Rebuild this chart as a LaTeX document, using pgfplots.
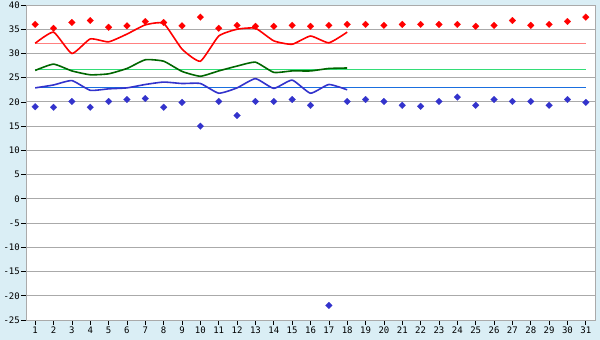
\documentclass[border=0pt]{standalone}
\usepackage{fontspec}
\setmainfont{DejaVu Sans Mono}
\usepackage{pgfplots}
\pgfplotsset{compat=1.18}
\definecolor{bg}{HTML}{DAEEF5}
\definecolor{gridgray}{HTML}{AAAAAA}
\definecolor{myred}{HTML}{FF0000}
\definecolor{mygreen}{HTML}{006600}
\definecolor{myblue}{HTML}{3333CC}
\definecolor{pinkline}{HTML}{FF8080}
\definecolor{lgreen}{HTML}{33DD77}
\definecolor{mblue}{HTML}{1A6FDF}
\begin{document}
\begin{tikzpicture}[x=1pt,y=1pt]
\useasboundingbox (0,0) rectangle (600,340);
\fill[bg] (0,0) rectangle (600,340);
\begin{axis}[
  at={(26pt,20pt)}, anchor=south west, scale only axis,
  width=569pt, height=315pt,
  xmin=0.5, xmax=31.5, ymin=-25, ymax=40,
  xtick={1,...,31}, ytick={-25,-20,...,40},
  ymajorgrids, grid style={color=gridgray, line width=0.9pt},
  axis line style={gridgray, line width=0.9pt},
  axis background/.style={fill=white},
  tick align=outside, xtick pos=bottom, ytick pos=left,
  major tick length=5pt,
  tick style={black, line width=0.7pt},
  ticklabel style={font=\fontsize{9}{9}\selectfont},
  xticklabel style={inner sep=1.5pt},
  yticklabel style={inner sep=1pt},
  /pgf/number format/assume math mode=true,
  every axis plot/.append style={line width=1.6pt},
  clip=false,
]
% reference lines
\addplot[pinkline, line width=0.9pt] coordinates {(1,32.0) (31,32.0)};
\addplot[lgreen, line width=0.9pt] coordinates {(1,26.7) (31,26.7)};
\addplot[mblue, line width=0.9pt] coordinates {(1,23.0) (31,23.0)};
% lines
\addplot[myred, smooth, tension=0.3] coordinates {
(1,32.1) (2,34.4) (3,30.0) (4,33.0) (5,32.4) (6,34.0) (7,35.9) (8,36.2) (9,30.9)
(10,28.4) (11,33.6) (12,35.0) (13,35.2) (14,32.6) (15,31.9) (16,33.6) (17,32.2) (18,34.4)};
\addplot[mygreen, smooth, tension=0.3] coordinates {
(1,26.5) (2,27.8) (3,26.4) (4,25.6) (5,25.8) (6,26.9) (7,28.7) (8,28.4) (9,26.3)
(10,25.3) (11,26.4) (12,27.4) (13,28.2) (14,26.1) (15,26.4) (16,26.4) (17,26.9) (18,27.0)};
\addplot[myblue, smooth, tension=0.3] coordinates {
(1,22.9) (2,23.5) (3,24.4) (4,22.4) (5,22.7) (6,22.9) (7,23.6) (8,24.1) (9,23.8)
(10,23.8) (11,21.8) (12,22.9) (13,24.8) (14,22.8) (15,24.5) (16,21.8) (17,23.6) (18,22.5)};
% markers
\addplot[only marks, mark=square*, mark size=2.4pt, mark options={rotate=45, fill=myred, draw=myred, line width=0.1pt}] coordinates {
(1,36.0) (2,35.2) (3,36.4) (4,36.8) (5,35.4) (6,35.7) (7,36.6) (8,36.4) (9,35.7) (10,37.5)
(11,35.2) (12,35.8) (13,35.6) (14,35.6) (15,35.8) (16,35.6) (17,35.8) (18,36.0) (19,36.0) (20,35.8)
(21,36.0) (22,36.0) (23,36.0) (24,36.0) (25,35.6) (26,35.8) (27,36.8) (28,35.8) (29,36.0) (30,36.6) (31,37.5)};
\addplot[only marks, mark=square*, mark size=2.4pt, mark options={rotate=45, fill=myblue, draw=myblue, line width=0.1pt}] coordinates {
(1,19.0) (2,18.9) (3,20.1) (4,18.9) (5,20.1) (6,20.5) (7,20.7) (8,18.9) (9,19.9) (10,15.0)
(11,20.1) (12,17.2) (13,20.1) (14,20.1) (15,20.5) (16,19.3) (17,-22.0) (18,20.1) (19,20.5) (20,20.1)
(21,19.3) (22,19.1) (23,20.1) (24,21.0) (25,19.3) (26,20.5) (27,20.1) (28,20.1) (29,19.3) (30,20.5) (31,19.9)};
\end{axis}
\end{tikzpicture}
\end{document}
